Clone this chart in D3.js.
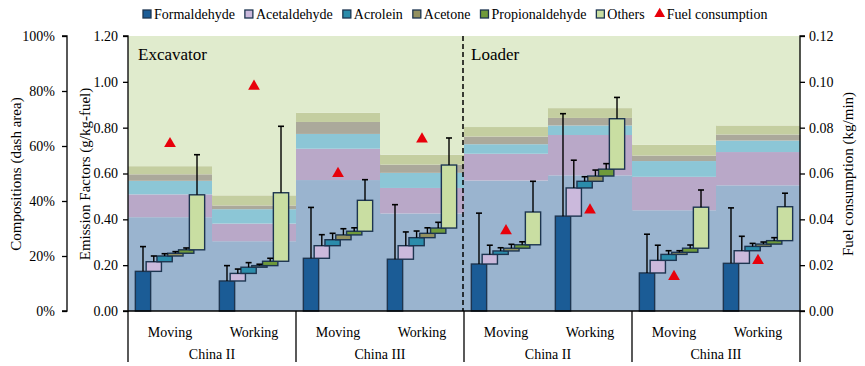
<!DOCTYPE html>
<html>
<head>
<meta charset="utf-8">
<script src="https://cdn.jsdelivr.net/npm/d3@7"></script>
<style>
  body { margin: 0; background: #fff; }
  text { font-family: "Liberation Serif", "Times New Roman", serif; fill: #000; }
</style>
</head>
<body>
<div id="chart"></div>
<script>
// categories
const machines = ['Excavator', 'Loader'];
const standards = ['China II', 'China III', 'China II', 'China III'];
const modes = ['Moving', 'Working'];

// emission factors (g/kg-fuel), one value per subgroup, left to right
const formaldehyde    = [0.173, 0.131, 0.230, 0.226, 0.205, 0.414, 0.166, 0.208];
const acetaldehyde    = [0.042, 0.033, 0.055, 0.059, 0.042, 0.123, 0.055, 0.055];
const acrolein        = [0.025, 0.027, 0.026, 0.035, 0.015, 0.029, 0.026, 0.019];
const acetone         = [0.012, 0.007, 0.021, 0.019, 0.012, 0.023, 0.009, 0.010];
const propionaldehyde = [0.015, 0.019, 0.016, 0.023, 0.015, 0.030, 0.018, 0.015];
const others          = [0.240, 0.299, 0.135, 0.275, 0.143, 0.220, 0.179, 0.148];

// standard deviations (error bars)
const errFormaldehyde    = [0.108, 0.067, 0.222, 0.238, 0.222, 0.447, 0.169, 0.242];
const errAcetaldehyde    = [0.025, 0.019, 0.048, 0.060, 0.040, 0.121, 0.066, 0.063];
const errAcrolein        = [0.010, 0.020, 0.028, 0.029, 0.014, 0.020, 0.016, 0.013];
const errAcetone         = [0.007, 0.006, 0.027, 0.024, 0.017, 0.026, 0.007, 0.009];
const errPropionaldehyde = [0.008, 0.013, 0.015, 0.025, 0.013, 0.024, 0.014, 0.013];
const errOthers          = [0.175, 0.290, 0.090, 0.118, 0.134, 0.093, 0.075, 0.059];

// fuel consumption (kg/min)
const fuel = [0.073, 0.098, 0.060, 0.075, 0.035, 0.044, 0.015, 0.022];

const efTicks = [0, 0.2, 0.4, 0.6, 0.8, 1.0, 1.2];
const pctTicks = [0, 0.2, 0.4, 0.6, 0.8, 1.0];
const fuelTicks = [0, 0.02, 0.04, 0.06, 0.08, 0.10, 0.12];

const species = ['Formaldehyde', 'Acetaldehyde', 'Acrolein', 'Acetone', 'Propionaldehyde', 'Others'];
const seriesVals = [formaldehyde, acetaldehyde, acrolein, acetone, propionaldehyde, others];
const seriesErr = [errFormaldehyde, errAcetaldehyde, errAcrolein, errAcetone, errPropionaldehyde, errOthers];

const barColors  = ['#1b5c96', '#cbb9dc', '#2b8cab', '#939160', '#6f9a3b', '#c9dea2'];
const bandColors = ['#9ab4cf', '#b9a8c8', '#8cc6d6', '#aba99b', '#c4cea0', '#e0ebcd'];

const svgWidth = 865, svgHeight = 366;
const margin = { top: 36, right: 65, bottom: 55, left: 128 };
const width = svgWidth - margin.left - margin.right;
const height = svgHeight - margin.top - margin.bottom;

const svg = d3.select('#chart').append('svg')
    .attr('width', svgWidth)
    .attr('height', svgHeight);

const g = svg.append('g')
    .attr('transform', `translate(${margin.left},${margin.top})`);

// one slot per machine/standard/mode
const subgroups = d3.range(8);
const x = d3.scaleBand().domain(subgroups).range([0, width]).padding(0);
const bw = x.bandwidth();

const yEF = d3.scaleLinear().domain([0, 1.2]).range([height, 0]);
const yPct = d3.scaleLinear().domain([0, 1]).range([height, 0]);
const yFuel = d3.scaleLinear().domain([0, 0.12]).range([height, 0]);

// build cumulative stacks
const stacks = subgroups.map(i => {
    let cum = 0;
    const segs = seriesVals.map((s, j) => {
        const y0 = cum;
        cum += s[i];
        return { j, y0, y1: cum, err: seriesErr[j][i] };
    });
    return { i, total: cum, segs };
});

// composition bands (dash area)
stacks.forEach(st => {
    st.segs.forEach(sg => {
        const p0 = sg.y0 / st.total;
        const p1 = sg.j === 5 ? 1 : sg.y1 / st.total;
        g.append('rect')
            .attr('x', x(st.i))
            .attr('width', bw + 0.5)
            .attr('y', yPct(p1))
            .attr('height', yPct(p0) - yPct(p1))
            .attr('fill', bandColors[sg.j]);
    });
});

// divider between excavator and loader
g.append('line')
    .attr('x1', x(4) - 1).attr('x2', x(4) - 1)
    .attr('y1', 0).attr('y2', height)
    .attr('stroke', '#000')
    .attr('stroke-width', 1.5)
    .attr('stroke-dasharray', '5,3');

g.selectAll('.machine')
    .data(machines)
    .enter()
    .append('text')
    .attr('x', (d, k) => x(k * 4) + (k ? 7 : 10))
    .attr('y', 24)
    .attr('font-size', 17)
    .text(d => d);

// waterfall bars
const barW = bw * 0.182;
const step = bw * 0.1286;
const pad = (bw - 5 * step - barW) / 2;

stacks.forEach(st => {
    const gg = g.append('g');
    st.segs.forEach(sg => {
        gg.append('rect')
            .attr('x', x(st.i) + pad + sg.j * step)
            .attr('width', barW)
            .attr('y', yEF(sg.y1))
            .attr('height', yEF(sg.y0) - yEF(sg.y1))
            .attr('fill', barColors[sg.j])
            .attr('stroke', '#1d3550')
            .attr('stroke-width', 1.4);
    });
    st.segs.forEach(sg => {
        const cx = x(st.i) + pad + sg.j * step + barW / 2;
        gg.append('line')
            .attr('x1', cx).attr('x2', cx)
            .attr('y1', yEF(sg.y1)).attr('y2', yEF(sg.y1 + sg.err))
            .attr('stroke', '#000').attr('stroke-width', 1.4);
        gg.append('line')
            .attr('x1', cx - 3).attr('x2', cx + 3)
            .attr('y1', yEF(sg.y1 + sg.err)).attr('y2', yEF(sg.y1 + sg.err))
            .attr('stroke', '#000').attr('stroke-width', 1.6);
    });
});

// fuel consumption markers
g.selectAll('.fuel')
    .data(fuel)
    .enter()
    .append('path')
    .attr('d', d3.symbol().type(d3.symbolTriangle).size(60))
    .attr('transform', (d, i) => `translate(${x(i) + bw / 2},${yFuel(d)})`)
    .attr('fill', '#e8000b');

// axes
const efAxis = d3.axisLeft(yEF).tickValues(efTicks).tickFormat(d3.format('.2f')).tickSize(5);
const efG = g.append('g').call(efAxis);

const pctAxis = d3.axisLeft(yPct).tickValues(pctTicks).tickFormat(d3.format('.0%')).tickSize(5);
const pctG = g.append('g').attr('transform', 'translate(-61,0)').call(pctAxis);

const fuelAxis = d3.axisRight(yFuel).tickValues(fuelTicks).tickFormat(d3.format('.2f')).tickSize(5);
const fuelG = g.append('g').attr('transform', `translate(${width},0)`).call(fuelAxis);

[efG, pctG, fuelG].forEach(a => {
    a.select('.domain').attr('stroke', '#000').attr('stroke-width', 1.3)
        .attr('d', a === fuelG ? `M5,0H0V${height}H5` : `M-5,0H0V${height}H-5`);
    a.selectAll('.tick line').attr('stroke', '#000').attr('stroke-width', 1.3);
    a.selectAll('.tick text')
        .attr('font-family', '"Liberation Serif", serif')
        .attr('font-size', 14)
        .attr('fill', '#000');
});
efG.selectAll('.tick text').attr('x', -10);
pctG.selectAll('.tick text').attr('x', -12);
fuelG.selectAll('.tick text').attr('x', 9);

// bottom category axis
g.append('line')
    .attr('x1', 0).attr('x2', width)
    .attr('y1', height).attr('y2', height)
    .attr('stroke', '#000').attr('stroke-width', 1.3);

[0, 2, 4, 6, 8].forEach(k => {
    const xx = k < 8 ? x(k) : width;
    g.append('line')
        .attr('x1', xx).attr('x2', xx)
        .attr('y1', height).attr('y2', height + 51)
        .attr('stroke', '#000').attr('stroke-width', 1.3);
});

g.selectAll('.mode')
    .data(subgroups)
    .enter()
    .append('text')
    .attr('x', i => x(i) + bw / 2)
    .attr('y', height + 26)
    .attr('text-anchor', 'middle')
    .attr('font-size', 14)
    .text(i => modes[i % 2]);

g.selectAll('.std')
    .data(standards)
    .enter()
    .append('text')
    .attr('x', (d, k) => x(k * 2) + bw)
    .attr('y', height + 48)
    .attr('text-anchor', 'middle')
    .attr('font-size', 14)
    .text(d => d);

// axis titles
svg.append('text')
    .attr('transform', 'translate(21,174) rotate(-90)')
    .attr('text-anchor', 'middle')
    .attr('font-size', 15)
    .text('Compositions (dash area)');

svg.append('text')
    .attr('transform', 'translate(90,174) rotate(-90)')
    .attr('text-anchor', 'middle')
    .attr('font-size', 15)
    .text('Emission Factors (g/kg-fuel)');

svg.append('text')
    .attr('transform', 'translate(853,174) rotate(-90)')
    .attr('text-anchor', 'middle')
    .attr('font-size', 15)
    .text('Fuel consumption (kg/min)');

// legend
const legend = svg.append('g');
let lx = 143;
species.forEach((s, j) => {
    legend.append('rect')
        .attr('x', lx).attr('y', 10)
        .attr('width', 8).attr('height', 8)
        .attr('fill', barColors[j])
        .attr('stroke', '#1d3550').attr('stroke-width', 1.3);
    const t = legend.append('text')
        .attr('x', lx + 11).attr('y', 19)
        .attr('font-size', 14)
        .text(s);
    lx += 11 + t.node().getComputedTextLength() + 10;
});
legend.append('path')
    .attr('d', d3.symbol().type(d3.symbolTriangle).size(50))
    .attr('transform', `translate(${lx + 5},14)`)
    .attr('fill', '#e8000b');
legend.append('text')
    .attr('x', lx + 12).attr('y', 19)
    .attr('font-size', 14)
    .text('Fuel consumption');
</script>
</body>
</html>
